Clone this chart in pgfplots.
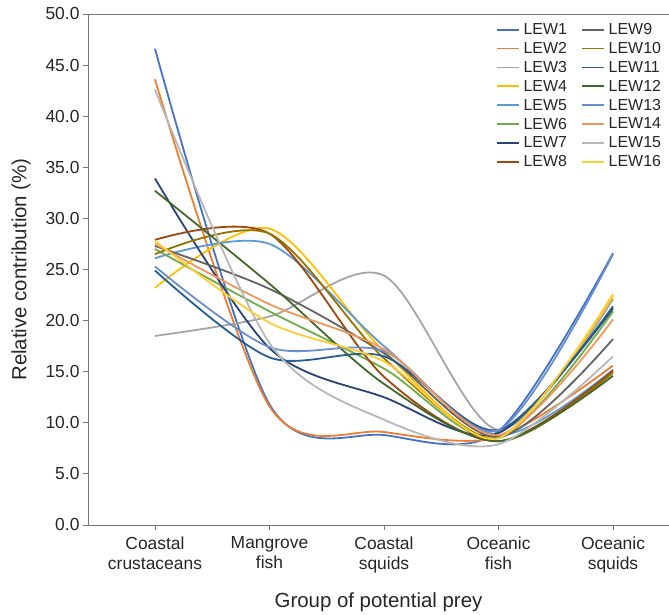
\documentclass[border=0pt]{standalone}
\usepackage{pgfplots}
\pgfplotsset{compat=1.18}
\usetikzlibrary{calc}
\usepackage{fontspec}
\setmainfont{Liberation Sans}
\definecolor{c1}{HTML}{4472C4}
\definecolor{c2}{HTML}{ED7D31}
\definecolor{c3}{HTML}{A5A5A5}
\definecolor{c4}{HTML}{FFC000}
\definecolor{c5}{HTML}{5B9BD5}
\definecolor{c6}{HTML}{70AD47}
\definecolor{c7}{HTML}{264478}
\definecolor{c8}{HTML}{9E480E}
\definecolor{c9}{HTML}{636363}
\definecolor{c10}{HTML}{997300}
\definecolor{c11}{HTML}{255E91}
\definecolor{c12}{HTML}{43682B}
\definecolor{c13}{HTML}{698ED0}
\definecolor{c14}{HTML}{F1975A}
\definecolor{c15}{HTML}{B7B7B7}
\definecolor{c16}{HTML}{FFCD33}
\definecolor{axgray}{HTML}{767676}
\definecolor{txt}{HTML}{262626}
\begin{document}
\begin{tikzpicture}
\begin{axis}[
  scale only axis, width=581bp, height=511bp,
  xmin=-0.585, xmax=4.489, ymin=0, ymax=50,
  axis x line=bottom, axis y line=left,
  axis line style={-, axgray, line width=0.9bp},
  tick style={axgray, line width=0.9bp},
  tick align=outside, major tick length=5bp,
  xtick={0,1,2,3,4},
  xticklabels={{Coastal\\crustaceans},{Mangrove\\fish},{Coastal\\squids},{Oceanic\\fish},{Oceanic\\squids}},
  xticklabel style={align=center, font=\fontsize{17.5}{20}\selectfont, text=txt, yshift=-3bp},
  ytick={0,5,...,50},
  yticklabel style={font=\fontsize{17.5}{20}\selectfont, text=txt},
  /pgf/number format/.cd, fixed, fixed zerofill, precision=1, assume math mode=true,
  /pgfplots/.cd,
  xlabel={Group of potential prey},
  ylabel={Relative contribution (\%)},
  xlabel style={font=\fontsize{20.5}{24}\selectfont, text=txt, at={(axis description cs:0.5,-0.151)}, anchor=center},
  ylabel style={font=\fontsize{20.5}{24}\selectfont, text=txt, at={(axis description cs:-0.115,0.5)}, anchor=center},
  every axis plot/.append style={smooth, tension=0.5, line width=1.8bp, no marks},
  legend columns=8, transpose legend,
  legend cell align=left,
  legend image code/.code={\draw[#1, line width=1.8bp] (0bp,0bp) -- (22bp,0bp);},
  legend style={at={(axis description cs:0.99,0.986)}, anchor=north east, draw=none, fill=none,
    font=\fontsize{16}{16}\selectfont, text=txt, row sep=2.3bp, inner sep=0pt,
    /tikz/every odd column/.append style={column sep=2bp},
    /tikz/every even column/.append style={column sep=12bp}},
]
\draw[axgray, line width=0.9bp] (rel axis cs:0,1) -- (rel axis cs:1,1);
\coordinate (sw) at (rel axis cs:0,0);
\coordinate (ne) at (rel axis cs:1,1);
\addplot[c1]  coordinates {(0,46.6) (1,11.8) (2,8.8)  (3,9.2) (4,26.6)};
\addplot[c2]  coordinates {(0,43.6) (1,11.6) (2,9.1)  (3,8.6) (4,15.6)};
\addplot[c3]  coordinates {(0,18.5) (1,20.4) (2,24.4) (3,9.3) (4,22.1)};
\addplot[c4]  coordinates {(0,23.2) (1,29.0) (2,17.0) (3,8.6) (4,22.4)};
\addplot[c5]  coordinates {(0,26.1) (1,27.5) (2,17.5) (3,8.8) (4,15.2)};
\addplot[c6]  coordinates {(0,27.0) (1,20.9) (2,15.3) (3,8.5) (4,20.9)};
\addplot[c7]  coordinates {(0,33.9) (1,17.3) (2,12.5) (3,9.0) (4,21.2)};
\addplot[c8]  coordinates {(0,27.9) (1,28.5) (2,14.5) (3,8.2) (4,15.1)};
\addplot[c9]  coordinates {(0,27.3) (1,23.1) (2,16.8) (3,8.6) (4,18.2)};
\addplot[c10] coordinates {(0,26.5) (1,28.5) (2,16.3) (3,8.2) (4,14.9)};
\addplot[c11] coordinates {(0,24.9) (1,16.4) (2,16.5) (3,9.3) (4,21.4)};
\addplot[c12] coordinates {(0,32.7) (1,23.6) (2,13.8) (3,8.2) (4,14.6)};
\addplot[c13] coordinates {(0,25.3) (1,17.4) (2,17.0) (3,9.3) (4,26.5)};
\addplot[c14] coordinates {(0,27.5) (1,21.6) (2,17.2) (3,8.8) (4,20.1)};
\addplot[c15] coordinates {(0,42.6) (1,17.8) (2,10.3) (3,7.9) (4,16.5)};
\addplot[c16] coordinates {(0,27.8) (1,19.8) (2,16.0) (3,8.5) (4,22.6)};
\legend{LEW1,LEW2,LEW3,LEW4,LEW5,LEW6,LEW7,LEW8,LEW9,LEW10,LEW11,LEW12,LEW13,LEW14,LEW15,LEW16}
\end{axis}
\pgfresetboundingbox
\path ($(sw)+(-88bp,-90bp)$) rectangle ($(ne)+(0bp,14bp)$);
\end{tikzpicture}
\end{document}
